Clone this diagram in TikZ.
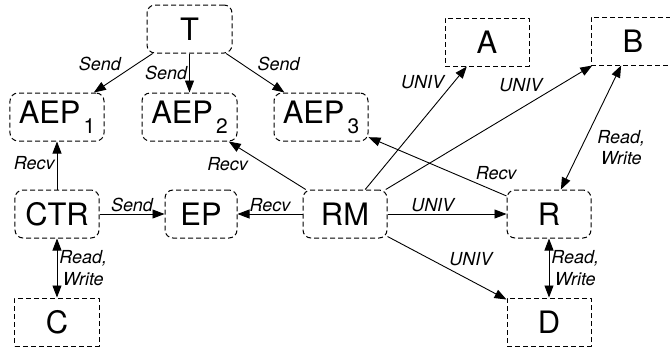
\documentclass[tikz,border=0pt]{standalone}
\usepackage{fontspec}
\setmainfont{TeX Gyre Heros}
\usetikzlibrary{arrows.meta}
\newcommand{\aepidx}[1]{\kern3bp\raisebox{-10bp}{\fontsize{21}{21}\selectfont#1}}
\tikzset{
  rbox/.style={draw, line width=1bp, dash pattern=on 5bp off 3bp, rounded corners=8bp, minimum width=84bp, minimum height=48bp, inner sep=0pt, font=\fontsize{31}{31}\selectfont},
  sbox/.style={rbox, rounded corners=0pt},
  lbl/.style={font=\fontsize{18}{21.5}\selectfont\itshape, inner sep=2bp}
}
\begin{document}
\begin{tikzpicture} [x=1bp, y=-1bp, line width=.9bp, line join=round, >={Triangle[length=12bp,width=9bp]}]
 \useasboundingbox (0,0) rectangle (670,350);
 \node[rbox, minimum width=85bp] (T) at (189.5,29) {T};
 \node[rbox, minimum width=94bp] (AEP1) at (57,117) {AEP\aepidx{1}};
 \node[rbox, minimum width=95bp] (AEP2) at (189.5,117) {AEP\aepidx{2}};
 \node[rbox, minimum width=94bp] (AEP3) at (321,117) {AEP\aepidx{3}};
 \node[sbox] (A) at (487,42) {A};
 \node[sbox] (B) at (633,41) {B};
 \node[rbox] (CTR) at (57,214) {CTR};
 \node[rbox, minimum width=72bp] (EP) at (201,214) {EP};
 \node[rbox] (RM) at (345,214) {RM};
 \node[rbox] (R) at (549,214) {R};
 \node[sbox] (C) at (57,322) {C};
 \node[sbox] (D) at (549,322) {D};
 % sending and receiving
 \draw[->] (T) -- (AEP1) node[lbl, midway, anchor=south east] {Send};
 \draw[->] (T) -- (AEP2) node[lbl, midway, anchor=east] {Send};
 \draw[->] (T) -- (AEP3) node[lbl, midway, anchor=south west] {Send};
 \draw[->] (CTR) -- (AEP1) node[lbl, pos=.55, anchor=east] {Recv};
 \draw[->] (RM) -- (AEP2) node[lbl, pos=.72, anchor=north east] {Recv};
 \draw[->] (R) -- (AEP3) node[lbl, pos=.24, anchor=south west] {Recv};
 \draw[->] (CTR) -- (EP) node[lbl, midway, above] {Send};
 \draw[->] (RM) -- (EP) node[lbl, midway, above] {Recv};
 % UNIV
 \draw[->] (RM) -- (A) node[lbl, pos=.8, anchor=south east] {UNIV};
 \draw[->] (RM) -- (B) node[lbl, pos=.77, anchor=south east] {UNIV};
 \draw[->] (RM) -- (R) node[lbl, pos=.38, above] {UNIV};
 \draw[->] (RM) -- (D) node[lbl, midway, anchor=south west] {UNIV};
 % read, write
 \draw[<->] (R) -- (B) node[lbl, midway, anchor=north west, xshift=4bp, align=center] {Read,\\Write};
 \draw[<->] (CTR) -- (C) node[lbl, midway, right, align=center] {Read,\\Write};
 \draw[<->] (R) -- (D) node[lbl, midway, right, align=center] {Read,\\Write};
\end{tikzpicture}
\end{document}
